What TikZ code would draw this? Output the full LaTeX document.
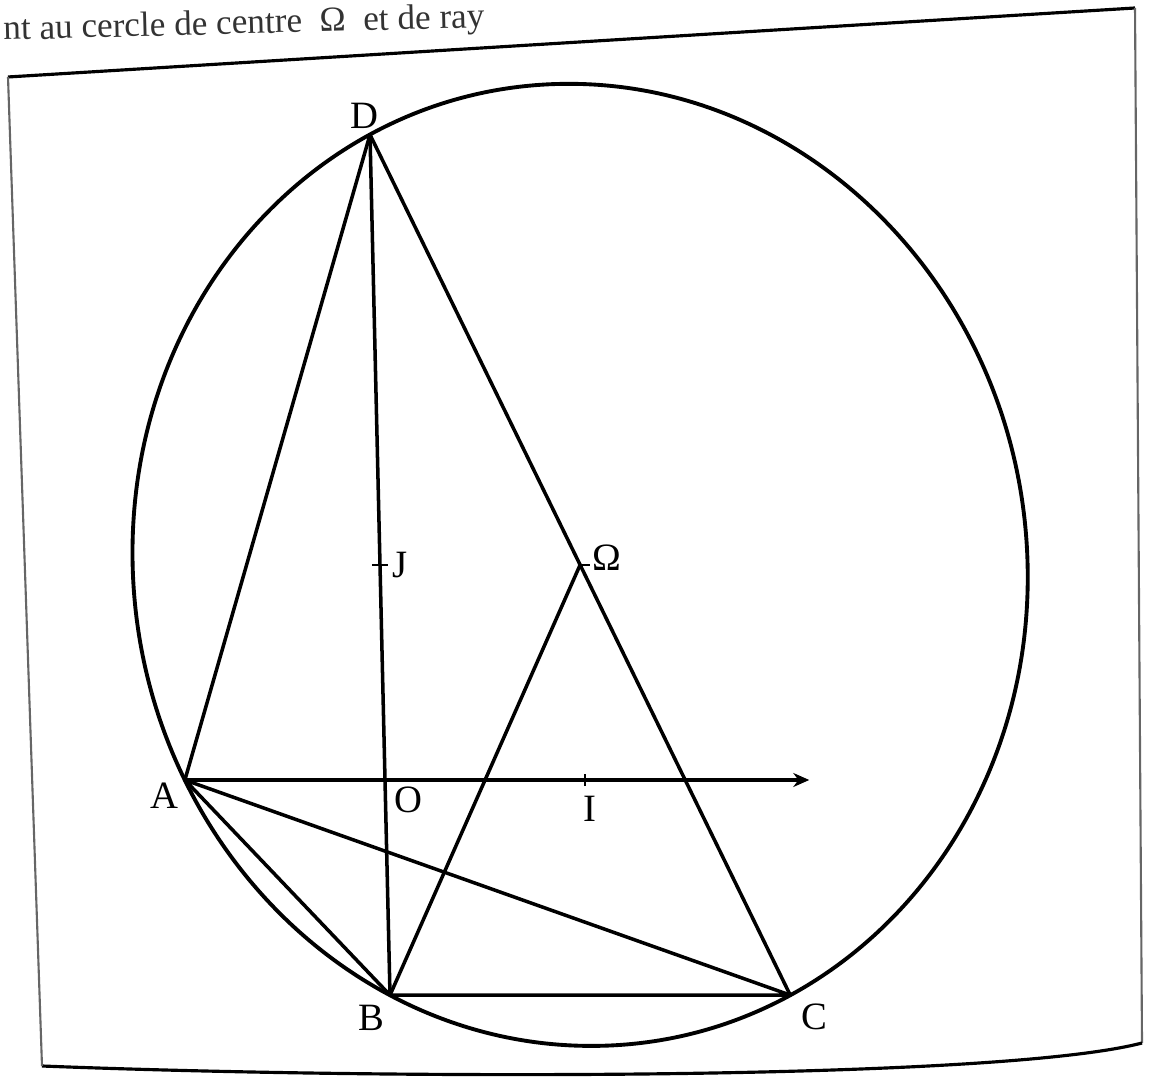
\documentclass[tikz,border=0pt]{standalone}
\usepackage{fontspec}
\setmainfont{Liberation Serif}
\usetikzlibrary{positioning}
\usetikzlibrary{arrows.meta}

\tikzset{
  fig/.style={line width=1pt, line cap=round, line join=round},
  lbl/.style={inner sep=0pt, font=\fontsize{11}{13}\selectfont},
  tick/.style={line width=0.7pt},
}

\begin{document}
\begin{tikzpicture}[x=0.01cm, y=-0.01cm]
    \useasboundingbox (0,0) rectangle (1152,1077);

    % bout de texte au-dessus du cadre
    \node[anchor=base west, rotate=1.5, inner sep=0pt, font=\fontsize{10}{12}\selectfont, text=black!80] (txt) at (3,40) {nt au cercle de centre~~Ω~~et de ray};

    % cadre
    \draw[line width=0.9pt] (8,77) -- (1135,8);
    \draw[line width=0.6pt, black!60] (1135,8) -- (1142,1043);
    \draw[line width=0.9pt] (1142,1043) .. controls (1000,1080) and (400,1080) .. (42,1066);
    \draw[line width=0.6pt, black!60] (42,1066) -- (8,77);

    \begin{scope}[shift={(385,780)}, x={(2cm,0)}, y={(-0.05cm,2.15cm)}]
    \coordinate (O) at (0,0);
    \coordinate (I) at (1,0);
    \coordinate (J) at (0,1);
    \coordinate (A) at (-1,0);
    \coordinate (B) at (0,-1);
    \coordinate (C) at (2,-1);
    \coordinate (D) at (0,3);
    \coordinate (W) at (1,1);
    \coordinate (xend) at (2.12,0);

    \draw[fig, line width=1.1pt] (W) circle (2.2361);
    \draw[fig, -{Stealth[length=1.6mm, width=1.4mm]}] (A) -- (xend);
    \draw[fig] (D) -- (B);
    \draw[fig] (A) -- (D);
    \draw[fig] (D) -- (C);
    \draw[fig] (B) -- (W);
    \draw[fig] (A) -- (B) -- (C) -- cycle;

    % graduations
    \draw[tick] ([xshift=-0.08cm]J) -- ([xshift=0.08cm]J);
    \draw[tick] (W) -- ([xshift=0.1cm]W);
    \draw[tick] ([yshift=-0.06cm]I) -- ([yshift=0.06cm]I);

    % noms des points
    \node[lbl, below left=0.02cm and 0.06cm of A] (lA) {A};
    \node[lbl, below right=0.065cm and 0.09cm of O] (lO) {O};
    \node[lbl, below=0.15cm of I, xshift=0.05cm] (lI) {I};
    \node[lbl, right=0.12cm of J] (lJ) {J};
    \node[lbl, right=0.12cm of W, yshift=0.07cm] (lW) {Ω};
    \node[lbl, above=0.05cm of D, xshift=-0.06cm] (lD) {D};
    \node[lbl, below left=0.09cm and 0.05cm of B] (lB) {B};
    \node[lbl, below right=0.08cm and 0.11cm of C] (lC) {C};
    \end{scope}
\end{tikzpicture}
\end{document}
